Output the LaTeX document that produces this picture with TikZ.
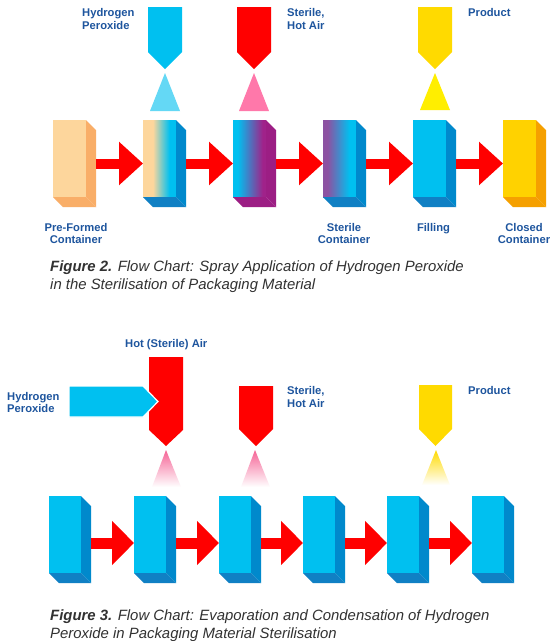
\documentclass[tikz,border=0pt]{standalone}
\usepackage{fontspec}
\setmainfont{Liberation Sans}
\usetikzlibrary{arrows.meta,calc}
\definecolor{cyanc}{RGB}{0,192,240}
\definecolor{sideblue}{RGB}{0,137,204}
\definecolor{botblue}{RGB}{16,128,196}
\definecolor{redc}{RGB}{255,0,0}
\definecolor{peach}{RGB}{253,214,156}
\definecolor{peachside}{RGB}{249,174,104}
\definecolor{purpc}{RGB}{160,34,138}
\definecolor{purpside}{RGB}{156,30,132}
\definecolor{purpl}{RGB}{140,82,162}
\definecolor{yelc}{RGB}{255,210,0}
\definecolor{yelside}{RGB}{245,160,0}
\definecolor{nozyel}{RGB}{255,218,0}
\definecolor{conecyan}{RGB}{100,216,245}
\definecolor{conepink}{RGB}{255,120,170}
\definecolor{coneyel}{RGB}{255,238,0}
\definecolor{pinkthree}{RGB}{245,100,150}
\definecolor{labblue}{RGB}{30,85,158}
\definecolor{capgray}{RGB}{50,50,50}
\pgfdeclarehorizontalshading{shpc}{100bp}{color(0bp)=(peach); color(40bp)=(peach); color(65bp)=(cyanc); color(100bp)=(cyanc)}
\pgfdeclarehorizontalshading{shcp}{100bp}{color(0bp)=(cyanc); color(32bp)=(cyanc); color(70bp)=(purpc); color(100bp)=(purpc)}
\pgfdeclarehorizontalshading{shpurc}{100bp}{color(0bp)=(purpl); color(32bp)=(purpl); color(65bp)=(cyanc); color(100bp)=(cyanc)}
\tikzset{
  cfront/.style={anchor=north west, minimum width=33pt, minimum height=77pt, inner sep=0pt, outer sep=0pt},
  cthree/.style={cfront, minimum width=32pt, fill=cyanc},
  redarr/.style={draw=redc, line width=10pt, -{Triangle[length=24pt,width=42pt]}},
  redarrthree/.style={draw=redc, line width=11pt, -{Triangle[length=22pt,width=43pt]}},
  lab/.style={font=\bfseries\fontsize{11.2}{13}\selectfont, text=labblue, inner sep=0pt},
  capt/.style={font=\itshape\fontsize{14.9}{18}\selectfont, text=capgray, inner sep=0pt, anchor=base west},
}
\newcommand\contbox[5]{%
  \node[#2] (#1) at #3 {};
  \fill[#4] (#1.north east) -- ++(10,10) -- ($(#1.south east)+(10,10)$) -- (#1.south east) -- cycle;
  \fill[#5] (#1.south west) -- (#1.south east) -- ++(10,10) -- ($(#1.south west)+(10,10)$) -- cycle;
}
\newcommand\nozzle[6]{%
  \fill[#1] (#2,#4) -- (#3,#4) -- (#3,#5) -- ({(#2+#3)/2},#6) -- (#2,#5) -- cycle;
}
\begin{document}
\begin{tikzpicture}[x=1pt,y=-1pt]
\useasboundingbox[fill=white] (0,0) rectangle (557,641);

% ---------------- Figure 2 ----------------
\nozzle{cyanc}{148}{182}{7}{52}{69}
\nozzle{redc}{237}{271}{7}{52}{69}
\nozzle{nozyel}{418}{452}{7}{52}{69}
\fill[conecyan] (165,73) -- (180,111) -- (150,111) -- cycle;
\fill[conepink] (254,73) -- (269,111) -- (239,111) -- cycle;
\fill[coneyel] (435,73) -- (450,110) -- (420,110) -- cycle;

\node[lab, anchor=base west] (hp1) at (82,16) {Hydrogen};
\node[lab, anchor=base west] (hp2) at (82,29) {Peroxide};
\node[lab, anchor=base west] (sh1) at (287,16) {Sterile,};
\node[lab, anchor=base west] (sh2) at (287,29) {Hot Air};
\node[lab, anchor=base west] (pr) at (468,16) {Product};

\contbox{a1}{cfront, fill=peach}{(53,120)}{peachside}{peachside}
\contbox{a2}{cfront, shade, shading=shpc}{(143,120)}{sideblue}{botblue}
\contbox{a3}{cfront, shade, shading=shcp}{(233,120)}{purpside}{purpside}
\contbox{a4}{cfront, shade, shading=shpurc}{(323,120)}{sideblue}{botblue}
\contbox{a5}{cfront, fill=cyanc}{(413,120)}{sideblue}{botblue}
\contbox{a6}{cfront, fill=yelc}{(503,120)}{yelside}{yelside}

\foreach \p/\q in {a1/a2,a2/a3,a3/a4,a4/a5,a5/a6}
  \draw[redarr] ($(\p.east)+(10,5)$) -- ($(\q.west)+(0,5)$);

\node[lab, anchor=base] (pf1) at (76,231) {Pre-Formed};
\node[lab, anchor=base] (pf2) at (76,243) {Container};
\node[lab, anchor=base] (sc1) at (344,231) {Sterile};
\node[lab, anchor=base] (sc2) at (344,243) {Container};
\node[lab, anchor=base] (fi) at (433.5,231) {Filling};
\node[lab, anchor=base] (cc1) at (524,231) {Closed};
\node[lab, anchor=base] (cc2) at (524,243) {Container};

\node[capt] (f2a) at (50,271) {{\bfseries Figure 2.} Flow Chart: Spray Application of Hydrogen Peroxide};
\node[capt] (f2b) at (50,289) {in the Sterilisation of Packaging Material};

% ---------------- Figure 3 ----------------
\node[lab, anchor=base west] (hsa) at (125,347) {Hot (Sterile) Air};
\node[lab, anchor=base west] (hq1) at (7,400) {Hydrogen};
\node[lab, anchor=base west] (hq2) at (7,412) {Peroxide};
\node[lab, anchor=base west] (sr1) at (287,394) {Sterile,};
\node[lab, anchor=base west] (sr2) at (287,407) {Hot Air};
\node[lab, anchor=base west] (pq) at (468,394) {Product};

\nozzle{redc}{149}{183}{357}{430}{446}
\nozzle{redc}{239}{273}{386}{429}{446}
\nozzle{nozyel}{419}{452}{385}{429}{446}
\filldraw[fill=cyanc, draw=white, line width=1.2pt] (69,386) -- (143,386) -- (158,401.5) -- (143,417) -- (69,417) -- cycle;

\shade[top color=pinkthree, middle color=pinkthree!45, bottom color=white] (166,450) -- (181,487) -- (152,487) -- cycle;
\shade[top color=pinkthree, middle color=pinkthree!45, bottom color=white] (255,450) -- (270,487) -- (241,487) -- cycle;
\shade[top color=nozyel, middle color=coneyel!45, bottom color=white] (436,450) -- (450,485) -- (422,485) -- cycle;

\contbox{b1}{cthree}{(49,496)}{sideblue}{botblue}
\contbox{b2}{cthree}{(134,496)}{sideblue}{botblue}
\contbox{b3}{cthree}{(219,496)}{sideblue}{botblue}
\contbox{b4}{cthree}{(303,496)}{sideblue}{botblue}
\contbox{b5}{cthree}{(387,496)}{sideblue}{botblue}
\contbox{b6}{cthree}{(472,496)}{sideblue}{botblue}

\foreach \p/\q in {b1/b2,b2/b3,b3/b4,b4/b5,b5/b6}
  \draw[redarrthree] ($(\p.east)+(10,8.5)$) -- ($(\q.west)+(0,8.5)$);

\node[capt] (f3a) at (50,620) {{\bfseries Figure 3.} Flow Chart: Evaporation and Condensation of Hydrogen};
\node[capt] (f3b) at (50,638) {Peroxide in Packaging Material Sterilisation};
\end{tikzpicture}
\end{document}
